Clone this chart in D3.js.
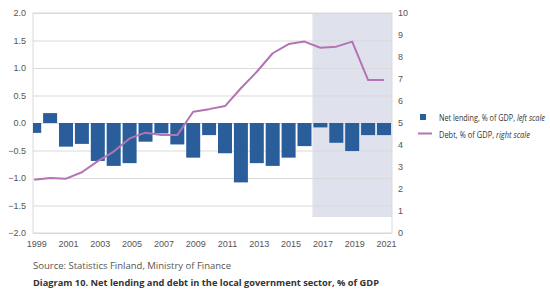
<!DOCTYPE html>
<html><head><meta charset="utf-8">
<script src="https://cdn.jsdelivr.net/npm/d3@7"></script>
<style>
html,body{margin:0;padding:0;background:#fff;}
svg{display:block;font-family:"Open Sans","Noto Sans",sans-serif;}
</style></head>
<body>
<svg id="chart" width="550" height="295"></svg>
<script>
const years = d3.range(1999, 2022);
const netLending = [-0.18, 0.18, -0.43, -0.38, -0.69, -0.78, -0.73, -0.34, -0.19, -0.39, -0.63, -0.22, -0.55, -1.08, -0.73, -0.78, -0.63, -0.42, -0.08, -0.36, -0.51, -0.22, -0.22];
const debt = [2.42, 2.5, 2.47, 2.76, 3.27, 3.7, 4.3, 4.56, 4.45, 4.45, 5.51, 5.63, 5.77, 6.58, 7.33, 8.17, 8.59, 8.7, 8.42, 8.47, 8.7, 6.95, 6.95];
const leftTicks = [2.0, 1.5, 1.0, 0.5, 0.0, -0.5, -1.0, -1.5, -2.0];
const rightTicks = [0,1,2,3,4,5,6,7,8,9,10];
const xTickYears = [1999,2001,2003,2005,2007,2009,2011,2013,2015,2017,2019,2021];
const forecastStart = 2016.5;
const forecastBottom = -1.71;
const legendLabels = [["Net lending, % of GDP, ", "left scale"], ["Debt, % of GDP, ", "right scale"]];
const sourceText = "Source: Statistics Finland, Ministry of Finance";
const titleText = "Diagram 10. Net lending and debt in the local government sector, % of GDP";

const svg = d3.select("#chart");
const plot = {left:33, right:392, top:13, bottom:233};
const x = d3.scaleLinear().domain([1999, 2021]).range([34.2, 384]);
const yL = d3.scaleLinear().domain([-2, 2]).range([plot.bottom, plot.top]);
const yR = d3.scaleLinear().domain([0, 10]).range([plot.bottom, plot.top]);
const barColor = "#2a5e9b", lineColor = "#b473b3", gridColor = "#d9d9d9", textColor = "#555";

svg.append("defs").append("clipPath").attr("id","clip").append("rect")
  .attr("x", plot.left).attr("y", plot.top).attr("width", plot.right-plot.left).attr("height", plot.bottom-plot.top);

// forecast shading
svg.append("rect").attr("x", x(forecastStart)).attr("y", plot.top)
  .attr("width", plot.right - x(forecastStart)).attr("height", yL(forecastBottom) - plot.top)
  .attr("fill", "#dfe2ec");

// gridlines
const gAxL = d3.axisLeft(yL).tickValues(leftTicks).tickSize(-(plot.right-plot.left)).tickFormat(d3.format(".1f")).tickPadding(7);
const gl = svg.append("g").attr("transform", `translate(${plot.left},0)`).call(gAxL);
gl.select(".domain").remove();
gl.selectAll(".tick line").attr("stroke", gridColor).attr("stroke-width", 1);
gl.selectAll(".tick text").attr("fill", textColor).attr("font-size", 9);

// border
svg.append("rect").attr("x", plot.left).attr("y", plot.top).attr("width", plot.right-plot.left).attr("height", plot.bottom-plot.top)
  .attr("fill","none").attr("stroke", gridColor).attr("stroke-width",1);

// right axis
const gr = svg.append("g").attr("transform", `translate(${plot.right},0)`)
  .call(d3.axisRight(yR).tickValues(rightTicks).tickSize(0).tickPadding(6).tickFormat(d3.format("d")));
gr.select(".domain").remove();
gr.selectAll(".tick text").attr("fill", textColor).attr("font-size", 9);

// x axis
const gx = svg.append("g").attr("transform", `translate(0,${plot.bottom})`)
  .call(d3.axisBottom(x).tickValues(xTickYears).tickSize(0).tickPadding(8).tickFormat(d3.format("d")));
gx.select(".domain").remove();
gx.selectAll(".tick text").attr("fill", textColor).attr("font-size", 9).attr("dx", 2);

// bars
const bw = 14;
svg.append("g").attr("clip-path","url(#clip)").selectAll("rect").data(years).join("rect")
  .attr("x", (d)=>x(d)-bw/2).attr("width", bw)
  .attr("y", (d,i)=>yL(Math.max(0, netLending[i])))
  .attr("height", (d,i)=>Math.abs(yL(netLending[i]) - yL(0)))
  .attr("fill", barColor);

// line
svg.append("path").datum(years).attr("fill","none").attr("stroke", lineColor).attr("stroke-width", 2)
  .attr("stroke-linejoin","round")
  .attr("d", d3.line().x(d=>x(d)).y((d,i)=>yR(debt[i])));

// legend
const lg = svg.append("g").attr("font-size", 8.5).attr("fill", "#333");
lg.append("rect").attr("x", 420).attr("y", 114).attr("width", 6).attr("height", 6).attr("fill", barColor);
lg.append("line").attr("x1", 418).attr("x2", 432).attr("y1", 133.5).attr("y2", 133.5).attr("stroke", lineColor).attr("stroke-width", 2);
const legendTargetW = [106, 91];
legendLabels.forEach((l, i) => {
  const g = lg.append("g").attr("transform", `translate(439,${120.5 + i*17})`);
  const t = g.append("text").attr("x", 0).attr("y", 0);
  t.append("tspan").text(l[0]);
  t.append("tspan").attr("font-style","italic").text(l[1]);
  const w = t.node().getComputedTextLength();
  t.attr("transform", `scale(${legendTargetW[i]/w},1)`);
});

svg.append("text").attr("x", 33).attr("y", 269).attr("font-size", 9).attr("fill", textColor)
  .attr("textLength", 198).attr("lengthAdjust", "spacingAndGlyphs").text(sourceText);
svg.append("text").attr("x", 33).attr("y", 286).attr("font-size", 9).attr("font-weight", "bold").attr("fill", "#333")
  .attr("textLength", 346).attr("lengthAdjust", "spacingAndGlyphs").text(titleText);
</script>
</body></html>
